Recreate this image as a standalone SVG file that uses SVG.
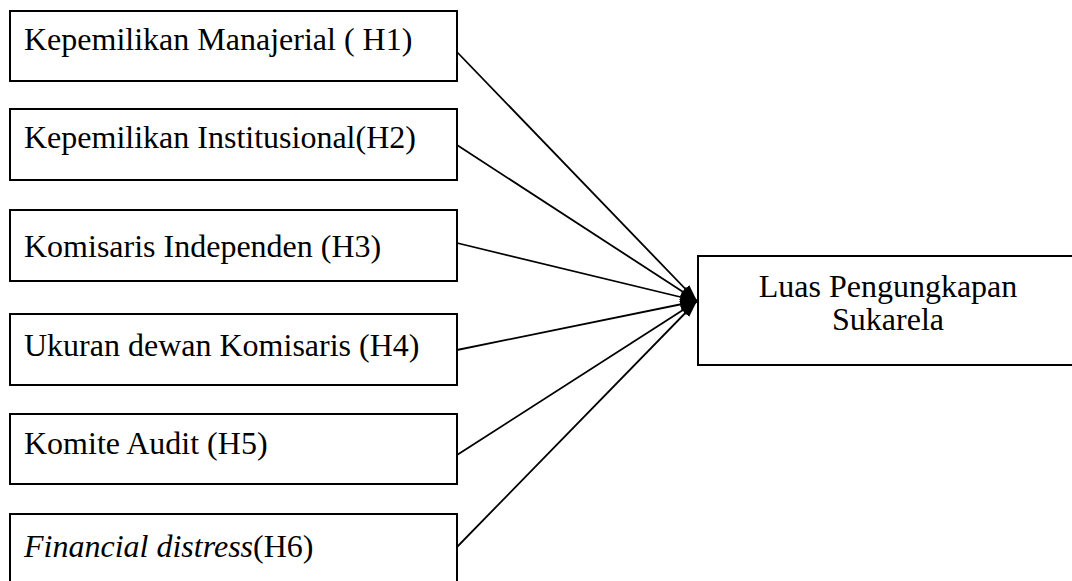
<svg xmlns="http://www.w3.org/2000/svg" width="1072" height="581" viewBox="0 0 1072 581">
<style>
.box{fill:#fff;stroke:#000;stroke-width:2}
.lbl{font-family:"Liberation Serif","Times New Roman",serif;font-size:32px;fill:#000}
.edge{stroke:#000;stroke-width:1.8;fill:none;marker-end:url(#ah)}
</style>
<defs>
<marker id="ah" markerUnits="userSpaceOnUse" markerWidth="17" markerHeight="11" viewBox="0 0 17 11" refX="17" refY="5.5" orient="auto">
<path d="M0,0 L17,5.5 L0,11 z" fill="#000"/>
</marker>
</defs>
<rect width="1072" height="581" fill="#fff"/>
<g id="connectors">
<line class="edge" x1="457" y1="52" x2="697" y2="301"/>
<line class="edge" x1="457" y1="145" x2="697" y2="301"/>
<line class="edge" x1="457" y1="243" x2="697" y2="301"/>
<line class="edge" x1="457" y1="350" x2="697" y2="301"/>
<line class="edge" x1="457" y1="455" x2="697" y2="301"/>
<line class="edge" x1="457" y1="547" x2="697" y2="301"/>
</g>
<g id="n1"><rect class="box" x="10" y="11" width="447" height="70"/><text class="lbl" x="24" y="50">Kepemilikan Manajerial ( H1)</text></g>
<g id="n2"><rect class="box" x="10" y="109" width="447" height="71"/><text class="lbl" x="24" y="148">Kepemilikan Institusional(H2)</text></g>
<g id="n3"><rect class="box" x="10" y="210" width="447" height="71"/><text class="lbl" x="24" y="257">Komisaris Independen (H3)</text></g>
<g id="n4"><rect class="box" x="10" y="314" width="447" height="71"/><text class="lbl" x="24" y="356">Ukuran dewan Komisaris (H4)</text></g>
<g id="n5"><rect class="box" x="10" y="414" width="447" height="70"/><text class="lbl" x="24" y="454">Komite Audit (H5)</text></g>
<g id="n6"><rect class="box" x="10" y="514" width="447" height="80"/><text class="lbl" x="24" y="557"><tspan font-style="italic">Financial distress</tspan>(H6)</text></g>
<g id="target"><rect class="box" x="698" y="256" width="390" height="109"/><text class="lbl" x="888" y="297" text-anchor="middle">Luas Pengungkapan</text><text class="lbl" x="888" y="330" text-anchor="middle">Sukarela</text></g>
</svg>
